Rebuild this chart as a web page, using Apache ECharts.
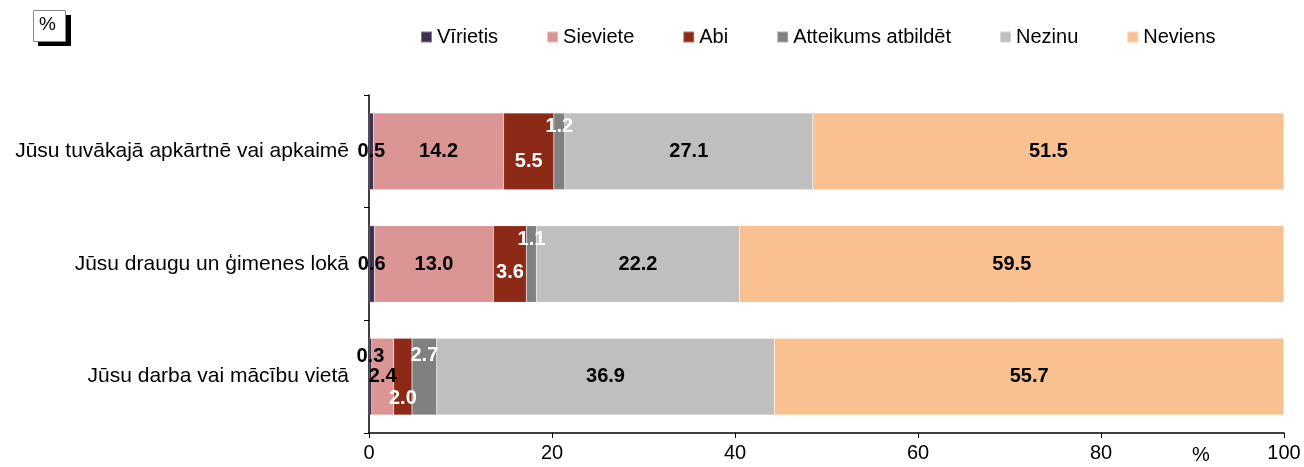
<!DOCTYPE html>
<html>
<head>
<meta charset="utf-8">
<script src="https://cdn.jsdelivr.net/npm/echarts@6/dist/echarts.min.js"></script>
<style>
  html, body { margin: 0; padding: 0; background: #fff; }
  #chart { width: 1304px; height: 467px; }
</style>
</head>
<body>
<div id="chart"></div>
<script>
// kategorijas (no apakšas uz augšu, kā ECharts zīmē)
const categories = ['Jūsu darba vai mācību vietā', 'Jūsu draugu un ģimenes lokā', 'Jūsu tuvākajā apkārtnē vai apkaimē'];
const seriesNames = ['Vīrietis', 'Sieviete', 'Abi', 'Atteikums atbildēt', 'Nezinu', 'Neviens'];
const virietis = [0.3, 0.6, 0.5];
const sieviete = [2.4, 13.0, 14.2];
const abi = [2.0, 3.6, 5.5];
const atteikums = [2.7, 1.1, 1.2];
const nezinu = [36.9, 22.2, 27.1];
const neviens = [55.7, 59.5, 51.5];
const xTicks = [0, 20, 40, 60, 80, 100];

const colors = ['#3f3053', '#da9594', '#8c2a17', '#808080', '#bfbfbf', '#f9c090'];
const values = [virietis, sieviete, abi, atteikums, nezinu, neviens];
const font = 'Liberation Sans, Arial, sans-serif';

// etiķešu nobīdes (pikseļos) mazajiem segmentiem
const labelOffsets = [
  [[0, -20], [0, 0], [0, 0]],
  [[0, 0], [0, 0], [0, 0]],
  [[0, 22], [0, 8], [0, 10]],
  [[0, -21], [0, -25], [0, -25]],
  [[0, 0], [0, 0], [0, 0]],
  [[0, 0], [0, 0], [0, 0]]
];
const labelColors = ['#000', '#000', '#fff', '#fff', '#000', '#000'];

const chart = echarts.init(document.getElementById('chart'));

let series = seriesNames.map(function (name, i) {
  return {
    name: name,
    type: 'bar',
    stack: 'total',
    barWidth: '68%',
    itemStyle: { color: colors[i], borderColor: 'rgba(255,255,255,0.35)', borderWidth: 0.5 },
    data: values[i].map(function (v, j) {
      return {
        value: v,
        label: { offset: labelOffsets[i][j] }
      };
    }),
    label: {
      show: true,
      position: 'inside',
      color: labelColors[i],
      fontFamily: font,
      fontWeight: 'bold',
      fontSize: 20,
      formatter: function (p) { return p.value.toFixed(1); }
    }
  };
});

let option = {
  animation: false,
  textStyle: { fontFamily: font },
  legend: {
    data: seriesNames,
    top: 22,
    left: 415,
    itemWidth: 11,
    itemHeight: 11,
    itemGap: 48,
    icon: 'rect',
    textStyle: { fontSize: 20, color: '#000' }
  },
  grid: { left: 369, right: 20, top: 95, bottom: 34, containLabel: false },
  xAxis: {
    type: 'value',
    min: 0,
    max: 100,
    interval: 20,
    axisLine: { show: true, lineStyle: { color: '#000', width: 1.5 } },
    axisTick: { show: true, length: 5, lineStyle: { color: '#000' } },
    splitLine: { show: false },
    axisLabel: { fontSize: 20, color: '#000', margin: 10 }
  },
  yAxis: {
    type: 'category',
    data: categories,
    axisLine: { show: true, lineStyle: { color: '#000', width: 1.5 } },
    axisTick: { show: true, length: 5, lineStyle: { color: '#000' } },
    axisLabel: { fontSize: 21, color: '#000', margin: 20 }
  },
  graphic: [
    { type: 'rect', left: 38, top: 15, shape: { width: 33, height: 31 }, style: { fill: '#000' } },
    { type: 'rect', left: 33, top: 10, shape: { width: 32, height: 31 }, style: { fill: '#fff', stroke: '#888', lineWidth: 1 } },
    { type: 'text', left: 39, top: 15, style: { text: '%', fontSize: 19, fill: '#000', fontFamily: font } },
    { type: 'text', left: 1192, top: 445, style: { text: '%', fontSize: 20, fill: '#000', fontFamily: font } }
  ],
  series: series
};

chart.setOption(option);
</script>
</body>
</html>
